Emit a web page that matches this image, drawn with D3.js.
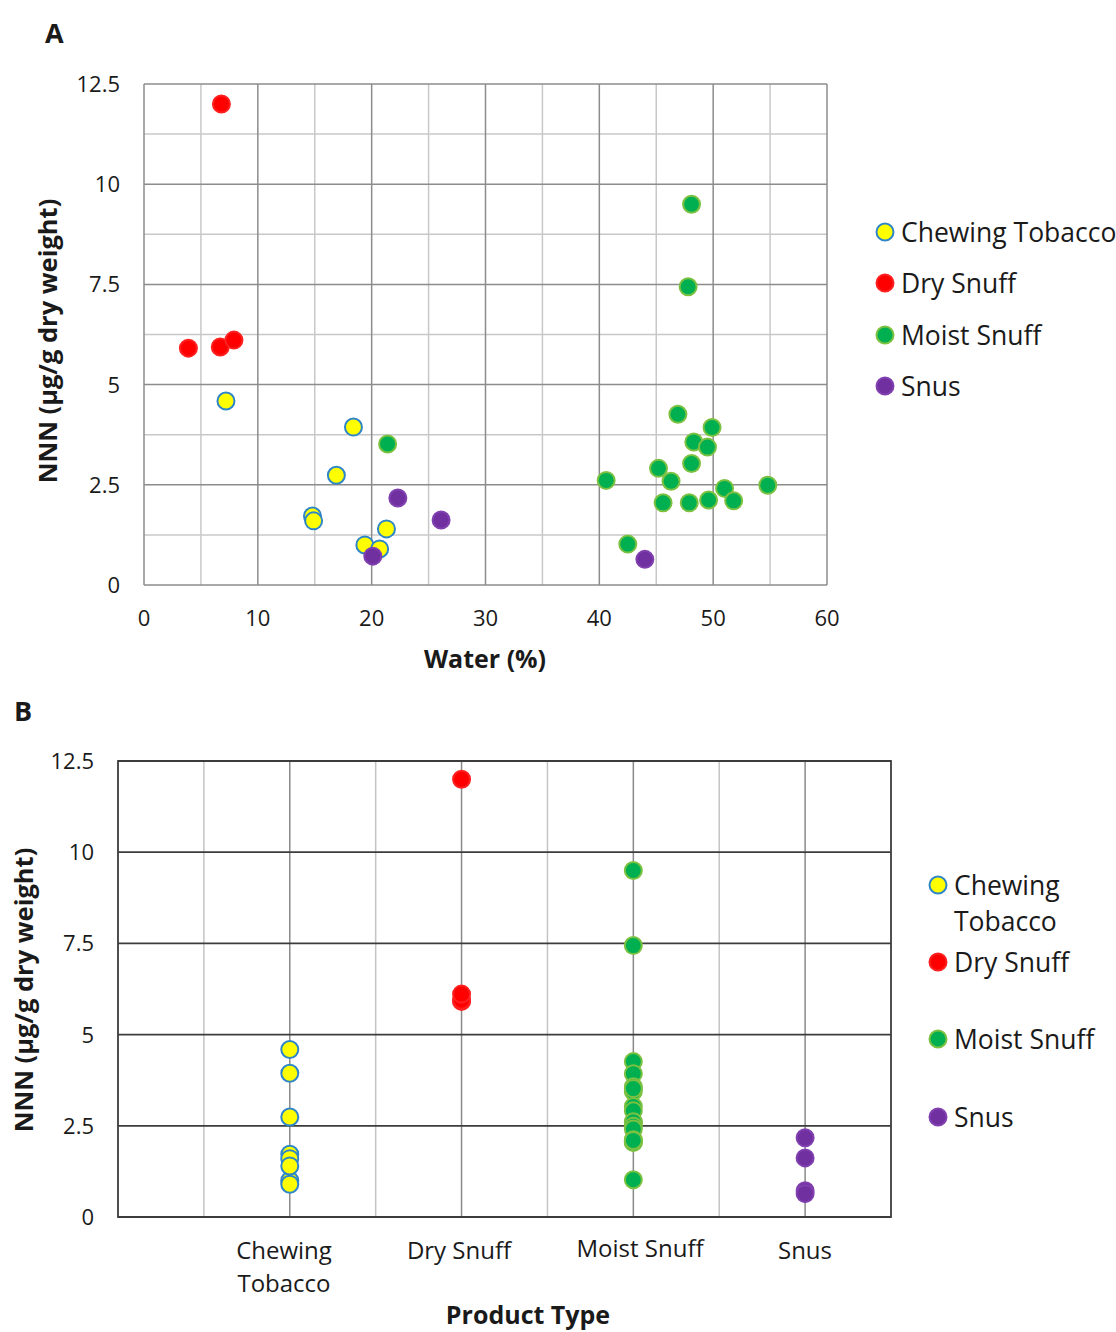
<!DOCTYPE html>
<html>
<head>
<meta charset="utf-8">
<script src="https://cdn.jsdelivr.net/npm/d3@7"></script>
<style>
  body { margin: 0; background: #fff; }
  text { font-family: "Open Sans", "Noto Sans", sans-serif; fill: #1a1a1a; }
</style>
</head>
<body>
<svg id="chart" width="1116" height="1332"></svg>
<script>
// Values
const categories = ['Chewing Tobacco', 'Dry Snuff', 'Moist Snuff', 'Snus'];
const categoryLines = [['Chewing', 'Tobacco'], ['Dry Snuff'], ['Moist Snuff'], ['Snus']];

const chewingWater = [7.2, 18.4, 16.9, 14.8, 14.9, 19.4, 20.7, 21.3];
const chewingNNN   = [4.59, 3.94, 2.74, 1.72, 1.60, 1.00, 0.90, 1.40];

const dryWater = [6.8, 3.9, 6.7, 7.9];
const dryNNN   = [12.0, 5.91, 5.94, 6.11];

const moistWater = [48.1, 47.8, 46.9, 49.9, 48.3, 49.5, 48.1, 45.2, 46.3, 40.6, 54.8, 51.0, 45.6, 47.9, 49.6, 51.8, 42.5, 21.4];
const moistNNN   = [9.50, 7.44, 4.26, 3.93, 3.57, 3.44, 3.03, 2.91, 2.59, 2.61, 2.49, 2.41, 2.05, 2.05, 2.12, 2.10, 1.02, 3.52];

const snusWater = [20.1, 22.3, 26.1, 44.0];
const snusNNN   = [0.72, 2.17, 1.62, 0.64];

const yTicks = [0, 2.5, 5, 7.5, 10, 12.5];
const xTicksA = [0, 10, 20, 30, 40, 50, 60];

const styles = {
    'Chewing Tobacco': { fill: '#ffff00', stroke: '#2e86c8' },
    'Dry Snuff': { fill: '#ff0000', stroke: '#ff2020' },
    'Moist Snuff': { fill: '#00b050', stroke: '#7cc142' },
    'Snus': { fill: '#7030a0', stroke: '#8040b0' }
};

const series = [
    { name: 'Chewing Tobacco', water: chewingWater, nnn: chewingNNN },
    { name: 'Dry Snuff', water: dryWater, nnn: dryNNN },
    { name: 'Moist Snuff', water: moistWater, nnn: moistNNN },
    { name: 'Snus', water: snusWater, nnn: snusNNN }
];

const svg = d3.select('#chart');
const R = 8.5;

// ---------------- Panel A ----------------
const a = { left: 144, right: 827, top: 84, bottom: 585 };
const xA = d3.scaleLinear().domain([0, 60]).range([a.left, a.right]);
const yA = d3.scaleLinear().domain([0, 12.5]).range([a.bottom, a.top]);

const gA = svg.append('g');

// minor grid
gA.selectAll('.vminor')
    .data(d3.range(5, 60, 10))
    .join('line')
        .attr('x1', d => xA(d)).attr('x2', d => xA(d))
        .attr('y1', a.top).attr('y2', a.bottom)
        .attr('stroke', '#c8c8c8').attr('stroke-width', 1.5);
gA.selectAll('.hminor')
    .data(d3.range(1.25, 12.5, 2.5))
    .join('line')
        .attr('x1', a.left).attr('x2', a.right)
        .attr('y1', d => yA(d)).attr('y2', d => yA(d))
        .attr('stroke', '#c8c8c8').attr('stroke-width', 1.5);
// major grid
gA.selectAll('.vmajor')
    .data(xTicksA)
    .join('line')
        .attr('x1', d => xA(d)).attr('x2', d => xA(d))
        .attr('y1', a.top).attr('y2', a.bottom)
        .attr('stroke', '#8c8c8c').attr('stroke-width', 1.5);
gA.selectAll('.hmajor')
    .data(yTicks)
    .join('line')
        .attr('x1', a.left).attr('x2', a.right)
        .attr('y1', d => yA(d)).attr('y2', d => yA(d))
        .attr('stroke', '#8c8c8c').attr('stroke-width', 1.5);

gA.selectAll('.ylab')
    .data(yTicks)
    .join('text')
        .attr('x', 120).attr('y', d => yA(d) + 8)
        .attr('text-anchor', 'end').attr('font-size', 22)
        .text(d => d);
gA.selectAll('.xlab')
    .data(xTicksA)
    .join('text')
        .attr('x', d => xA(d)).attr('y', 626)
        .attr('text-anchor', 'middle').attr('font-size', 22)
        .text(d => d);

gA.append('text')
    .attr('x', 485).attr('y', 668)
    .attr('text-anchor', 'middle').attr('font-size', 25).attr('font-weight', 'bold')
    .text('Water (%)');
gA.append('text')
    .attr('transform', `translate(57,341) rotate(-90)`)
    .attr('text-anchor', 'middle').attr('font-size', 25.5).attr('font-weight', 'bold')
    .text('NNN (µg/g dry weight)');
gA.append('text')
    .attr('x', 45).attr('y', 43)
    .attr('font-size', 27).attr('font-weight', 'bold')
    .text('A');

series.forEach(s => {
    gA.selectAll(null)
        .data(s.water.map((w, i) => ({ w: w, v: s.nnn[i] })))
        .join('circle')
            .attr('cx', d => xA(d.w)).attr('cy', d => yA(d.v)).attr('r', R)
            .attr('fill', styles[s.name].fill)
            .attr('stroke', styles[s.name].stroke).attr('stroke-width', 2);
});

// legend A
const legA = gA.selectAll('.legA')
    .data(categories)
    .join('g')
        .attr('transform', (d, i) => `translate(885,${[232, 283, 335, 386][i]})`);
legA.append('circle').attr('r', R)
    .attr('fill', d => styles[d].fill).attr('stroke', d => styles[d].stroke).attr('stroke-width', 2);
legA.append('text').attr('x', 16).attr('y', 10).attr('font-size', 26.5).text(d => d);

// ---------------- Panel B ----------------
const b = { left: 118, right: 891, top: 761, bottom: 1217 };
const xB = d3.scaleLinear().domain([0, 4.5]).range([b.left, b.right]);
const yB = d3.scaleLinear().domain([0, 12.5]).range([b.bottom, b.top]);

const gB = svg.append('g');

gB.selectAll('.vminorB')
    .data(d3.range(0.5, 4.5, 1))
    .join('line')
        .attr('x1', d => xB(d)).attr('x2', d => xB(d))
        .attr('y1', b.top).attr('y2', b.bottom)
        .attr('stroke', '#c4c4c4').attr('stroke-width', 1.5);
gB.selectAll('.vmajorB')
    .data(d3.range(1, 5))
    .join('line')
        .attr('x1', d => xB(d)).attr('x2', d => xB(d))
        .attr('y1', b.top).attr('y2', b.bottom)
        .attr('stroke', '#8a8a8a').attr('stroke-width', 1.5);
gB.selectAll('.hB')
    .data(yTicks)
    .join('line')
        .attr('x1', b.left).attr('x2', b.right)
        .attr('y1', d => yB(d)).attr('y2', d => yB(d))
        .attr('stroke', '#3c3c3c').attr('stroke-width', 1.8);
gB.append('rect')
    .attr('x', b.left).attr('y', b.top)
    .attr('width', b.right - b.left).attr('height', b.bottom - b.top)
    .attr('fill', 'none').attr('stroke', '#3c3c3c').attr('stroke-width', 1.8);

gB.selectAll('.ylabB')
    .data(yTicks)
    .join('text')
        .attr('x', 94).attr('y', d => yB(d) + 8)
        .attr('text-anchor', 'end').attr('font-size', 22)
        .text(d => d);

const catLabelX = [284, 459, 640, 805];
const catLabels = gB.selectAll('.catlab')
    .data(categoryLines)
    .join('text')
        .attr('x', (d, i) => catLabelX[i]).attr('y', (d, i) => i === 2 ? 1257 : 1259)
        .attr('text-anchor', 'middle').attr('font-size', 24);
catLabels.selectAll('tspan')
    .data(d => d)
    .join('tspan')
        .attr('x', function() { return this.parentNode.getAttribute('x'); })
        .attr('dy', (d, i) => i === 0 ? 0 : 33)
        .text(d => d);

gB.append('text')
    .attr('x', 528).attr('y', 1324)
    .attr('text-anchor', 'middle').attr('font-size', 25).attr('font-weight', 'bold')
    .text('Product Type');
gB.append('text')
    .attr('transform', `translate(33,990) rotate(-90)`)
    .attr('text-anchor', 'middle').attr('font-size', 25.5).attr('font-weight', 'bold')
    .text('NNN (µg/g dry weight)');
gB.append('text')
    .attr('x', 14).attr('y', 721)
    .attr('font-size', 27).attr('font-weight', 'bold')
    .text('B');

series.forEach((s, k) => {
    gB.selectAll(null)
        .data(s.nnn)
        .join('circle')
            .attr('cx', xB(k + 1)).attr('cy', d => yB(d)).attr('r', R)
            .attr('fill', styles[s.name].fill)
            .attr('stroke', styles[s.name].stroke).attr('stroke-width', 2);
});

// legend B
const legBy = [885, 962, 1039, 1117];
const legB = gB.selectAll('.legB')
    .data(categories)
    .join('g')
        .attr('transform', (d, i) => `translate(938,${legBy[i]})`);
legB.append('circle').attr('r', R)
    .attr('fill', d => styles[d].fill).attr('stroke', d => styles[d].stroke).attr('stroke-width', 2);
const legBText = legB.append('text').attr('y', 10).attr('font-size', 26.5);
legBText.selectAll('tspan')
    .data(d => d === 'Chewing Tobacco' ? ['Chewing', 'Tobacco'] : [d])
    .join('tspan')
        .attr('x', 16)
        .attr('dy', (d, i) => i === 0 ? 0 : 36)
        .text(d => d);
</script>
</body>
</html>
